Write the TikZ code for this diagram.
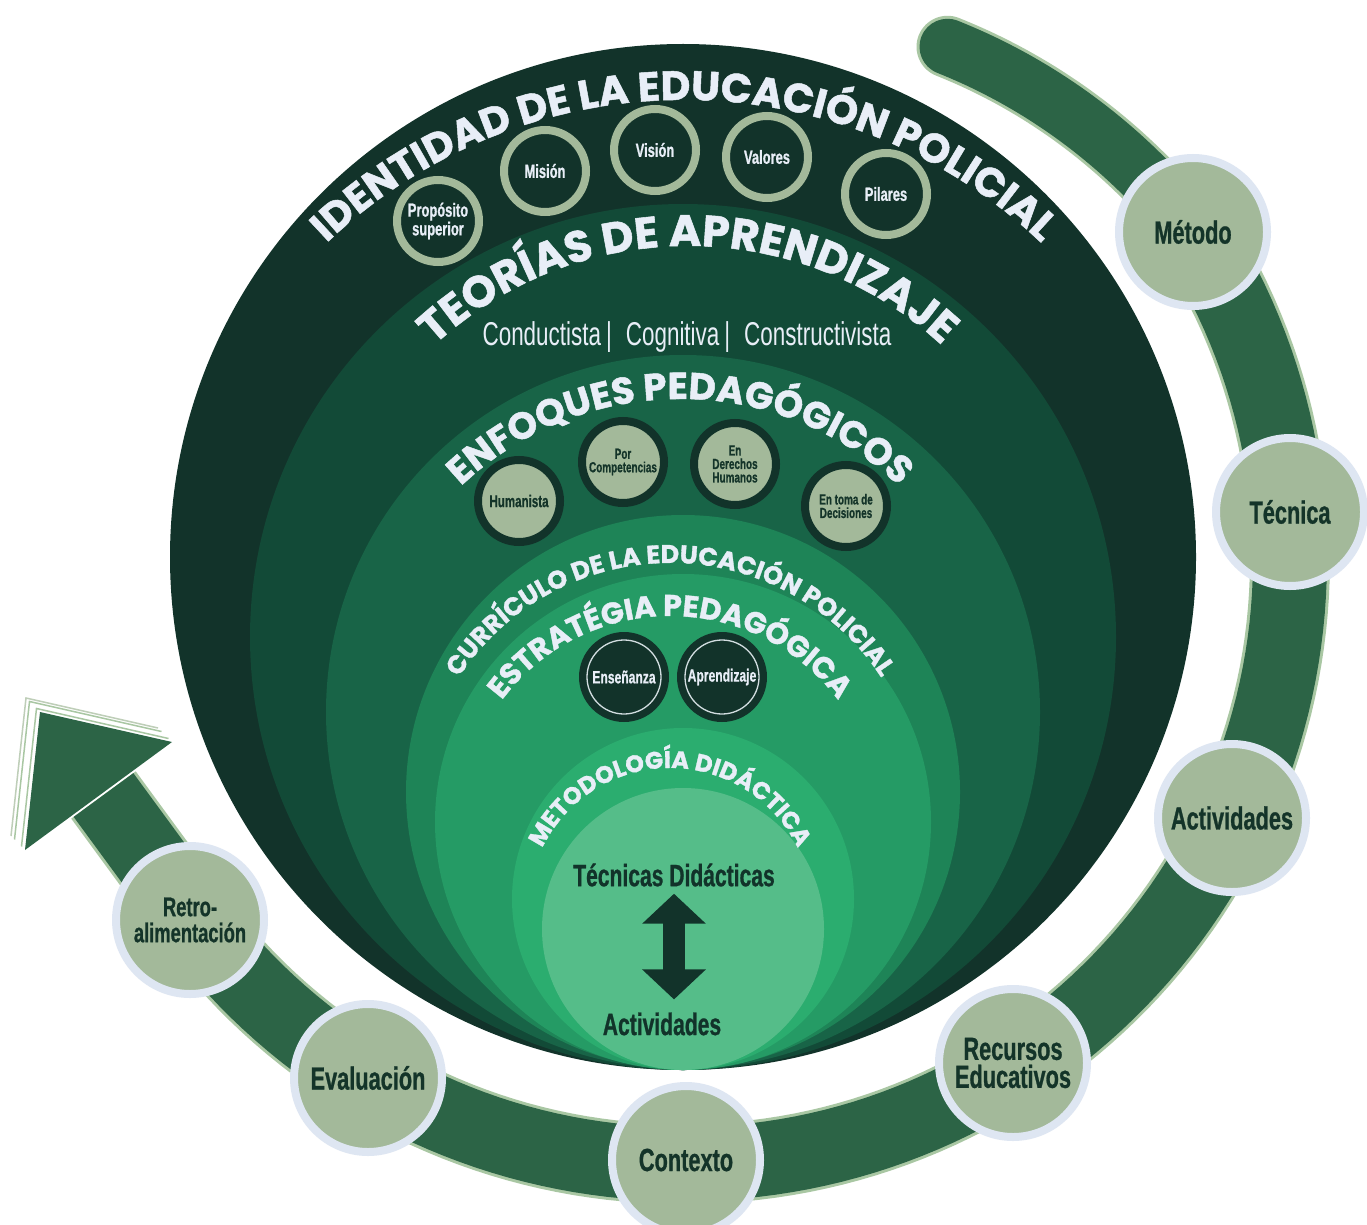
\documentclass[tikz,border=0pt]{standalone}
\usepackage{fontspec}
\usetikzlibrary{decorations.text,arrows.meta,calc}
\newfontfamily\headfont{Poppins}[BoldFeatures={FakeBold=1.2}]
\newfontfamily\condfont{Liberation Sans}[FakeStretch=0.68, BoldFeatures={FakeBold=0.8}]
\definecolor{Lone}{HTML}{12332A}
\definecolor{Ltwo}{HTML}{124A37}
\definecolor{Lthree}{HTML}{186447}
\definecolor{Lfour}{HTML}{1E8457}
\definecolor{Lfive}{HTML}{259B65}
\definecolor{Lsix}{HTML}{2BAD6F}
\definecolor{Lseven}{HTML}{55BD89}
\definecolor{bandc}{HTML}{2C6446}
\definecolor{bandedge}{HTML}{A9C7A3}
\definecolor{sage}{HTML}{A3B99A}
\definecolor{ringwhite}{HTML}{DEE6F2}
\definecolor{darktxt}{HTML}{143429}
\definecolor{lighttxt}{HTML}{E8EEF7}
\begin{document}
\begin{tikzpicture}[x=1pt,y=-1pt,
  bn/.style={circle, fill=sage, draw=ringwhite, line width=8pt, minimum size=148pt, inner sep=0pt,
    align=center, text=darktxt, font=\condfont\bfseries\fontsize{32}{28}\selectfont},
  idc/.style={circle, fill=Lone, draw=sage, line width=8pt, minimum size=82pt, inner sep=0pt,
    align=center, text=lighttxt, font=\condfont\bfseries\fontsize{19}{16}\selectfont},
  enc/.style={circle, fill=sage, draw=Lone, line width=8pt, minimum size=82pt, inner sep=0pt,
    align=center, text=darktxt, font=\condfont\bfseries\fontsize{14.6}{13.5}\selectfont},
  esc/.style={circle, fill=Lone, minimum size=90pt, inner sep=0pt, align=center, text=lighttxt,
    font=\condfont\bfseries\fontsize{17.8}{17}\selectfont,
    path picture={\draw[ringwhite!80!sage, line width=1.3pt] (path picture bounding box.center) circle[radius=37];}},
  innertxt/.style={inner sep=0pt, text=Lone, font=\condfont\bfseries\fontsize{31}{31}\selectfont},
  arctext/.style={decorate, decoration={text along path, text align=center, text={#1}}}
]
\useasboundingbox (0,0) rectangle (1367,1225);
\fill[white] (0,0) rectangle (1367,1225);
\clip (0,0) rectangle (1367,1225);

% nested layers
\fill[Lone]   (683,557) circle[radius=513];
\fill[Ltwo]   (683,637) circle[radius=433];
\fill[Lthree] (683,712) circle[radius=357];
\fill[Lfour]  (683,792) circle[radius=277];
\fill[Lfive]  (683,822) circle[radius=248];
\fill[Lsix]   (683,899) circle[radius=171];
\fill[Lseven] (683,929) circle[radius=141];

% arc headings
\path[arctext={|\headfont\bfseries\fontsize{41}{41}\selectfont\color{lighttxt}|IDENTIDAD DE LA EDUCACIÓN POLICIAL}]
  (684,618) ++(190:518) arc[start angle=190, end angle=350, radius=518];
\path[arctext={|\headfont\bfseries\fontsize{44}{44}\selectfont\color{lighttxt}|TEORÍAS DE APRENDIZAJE}]
  (688,620) ++(180:374) arc[start angle=180, end angle=360, radius=374];
\path[arctext={|\headfont\bfseries\fontsize{37.5}{37.5}\selectfont\color{lighttxt}|ENFOQUES PEDAGÓGICOS}]
  (680,718) ++(180:319) arc[start angle=180, end angle=360, radius=319];
\path[arctext={|\headfont\bfseries\fontsize{25.5}{25.5}\selectfont\color{lighttxt}|CURRÍCULO DE LA EDUCACIÓN POLICIAL}]
  (670,815) ++(165:252) arc[start angle=165, end angle=375, radius=252];
\path[arctext={|\headfont\bfseries\fontsize{30}{30}\selectfont\color{lighttxt}|ESTRATÉGIA PEDAGÓGICA}]
  (670,826) ++(170:210) arc[start angle=170, end angle=370, radius=210];
\path[arctext={|\headfont\bfseries\fontsize{24}{24}\selectfont\color{lighttxt}|METODOLOGÍA DIDÁCTICA}]
  (670,910) ++(170:142) arc[start angle=170, end angle=370, radius=142];

% identity circles
\node[idc] (prop) at (438,221) {Propósito\\superior};
\node[idc] (mis) at (545,171) {Misión};
\node[idc] (vis) at (655,150) {Visión};
\node[idc] (val) at (767,157) {Valores};
\node[idc] (pil) at (886,194) {Pilares};

% theories line
\node[inner sep=0pt, text=lighttxt, font=\condfont\fontsize{33}{33}\selectfont] (teo) at (687,337)
  {Conductista\hspace{5pt}|\hspace{14pt}Cognitiva\hspace{5pt}|\hspace{14pt}Constructivista};

% approaches
\node[enc, font=\condfont\bfseries\fontsize{17}{17}\selectfont] (hum) at (519,501) {Humanista};
\node[enc] (comp) at (623,462) {Por\\Competencias};
\node[enc] (ddhh) at (735,464) {En\\Derechos\\Humanos};
\node[enc] (dec) at (846,506) {En toma de\\Decisiones};

% strategy
\node[esc] (ens) at (624,677) {Enseñanza};
\node[esc] (apr) at (722,677) {Aprendizaje};

% inner methodology
\node[innertxt] (tec) at (674,875) {Técnicas Didácticas};
\node[innertxt] (actin) at (662,1024) {Actividades};
\draw[Lone, line width=22pt, {Triangle[width=62pt,length=30pt]}-{Triangle[width=62pt,length=30pt]},
  shorten <=7pt, shorten >=13pt] (tec.south) -- (tec.south |- actin.north);

% outer band
\coordinate (abase) at (103.5,795);
\coordinate (atip) at (40,712);
\coordinate (aw1) at (172,742);
\coordinate (aw2) at (25,850);
\draw[bandedge, line width=62pt, line cap=round]
  plot[domain=63:33, samples=40, variable=\t] ({686+(576+(63-\t)*28/30)*cos(\t)}, {560-(576+(63-\t)*28/30)*sin(\t)});
\draw[bandedge, line width=80pt, line join=round]
  plot[domain=33:-147, samples=120, variable=\t] ({686+(604+0.1*max(0,-90-\t))*cos(\t)}, {560-(604+0.1*max(0,-90-\t))*sin(\t)}) -- (abase);
\draw[bandc, line width=56pt, line cap=round]
  plot[domain=63:33, samples=40, variable=\t] ({686+(576+(63-\t)*28/30)*cos(\t)}, {560-(576+(63-\t)*28/30)*sin(\t)});
\draw[bandc, line width=74pt, line join=round]
  plot[domain=33:-147, samples=120, variable=\t] ({686+(604+0.1*max(0,-90-\t))*cos(\t)}, {560-(604+0.1*max(0,-90-\t))*sin(\t)}) -- (abase);

% arrow head with stacked outlines
\foreach \k/\c in {4/sage!70, 3/bandedge, 2/white, 1/bandedge}{
  \draw[\c, line width=1.5pt] ($(aw1)+(-3.5*\k,-3.5*\k)$) -- ($(atip)+(-3.5*\k,-3.5*\k)$) -- ($(aw2)+(-3.5*\k,-3.5*\k)$);
}
\fill[bandc] (atip) -- (aw1) -- (aw2) -- cycle;

% band nodes
\node[bn] (metodo) at (1193,232) {Método};
\node[bn] (tecnica) at (1290,512) {Técnica};
\node[bn] (activ) at (1232,818) {Actividades};
\node[bn] (recursos) at (1013,1063) {Recursos\\Educativos};
\node[bn] (contexto) at (686,1160) {Contexto};
\node[bn] (eval) at (368,1078) {Evaluación};
\node[bn, font=\condfont\bfseries\fontsize{27}{26}\selectfont] (retro) at (190,920) {Retro-\\alimentación};
\end{tikzpicture}
\end{document}
